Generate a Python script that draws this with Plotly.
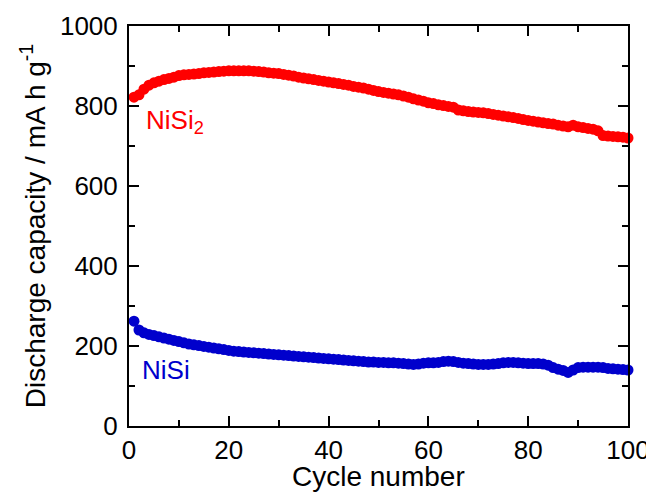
import plotly.graph_objects as go

cycles = list(range(1, 101))

nisi2_capacity = [
    822, 828, 842, 852, 858, 862, 866, 869, 872, 876,
    878, 879, 880, 881, 883, 884, 885, 886, 887, 888,
    888, 888, 888, 888, 887, 886, 885, 883, 882, 881,
    879, 877, 875, 872, 870, 868, 866, 864, 862, 860,
    858, 856, 854, 852, 849, 847, 845, 842, 839, 836,
    834, 832, 830, 828, 825, 822, 818, 815, 812, 808,
    806, 803, 801, 799, 797, 790, 788, 786, 785, 784,
    783, 781, 779, 777, 775, 773, 771, 769, 766, 764,
    762, 760, 758, 756, 755, 752, 750, 748, 752, 748,
    746, 744, 742, 738, 726, 725, 724, 723, 722, 720,
]

nisi_capacity = [
    262, 240, 233, 229, 226, 223, 220, 217, 214, 211,
    208, 205, 203, 201, 199, 197, 195, 193, 191, 189,
    187, 186, 185, 184, 183, 182, 181, 180, 179, 178,
    177, 176, 175, 174, 173, 172, 171, 170, 169, 168,
    167, 166, 165, 164, 163, 162, 161, 160, 160, 159,
    159, 158, 158, 157, 156, 155, 154, 155, 157, 158,
    158, 159, 161, 162, 161, 159, 157, 156, 155, 154,
    154, 154, 155, 156, 158, 159, 159, 158, 157, 156,
    156, 156, 155, 152, 146, 142, 139, 134, 140, 146,
    147, 147, 147, 147, 146, 144, 143, 142, 141, 140,
]

x_ticks = [0, 20, 40, 60, 80, 100]
x_minor = [10, 30, 50, 70, 90]
y_ticks = [0, 200, 400, 600, 800, 1000]
y_minor = [100, 300, 500, 700, 900]

FONT = "Liberation Sans, Arial, sans-serif"
RED = "#ff0000"
BLUE = "#0000cc"

fig = go.Figure()
fig.add_trace(go.Scatter(x=cycles, y=nisi2_capacity, mode="markers",
                         marker=dict(color=RED, size=11, line=dict(width=0)),
                         name="NiSi2", showlegend=False, cliponaxis=False))
fig.add_trace(go.Scatter(x=cycles, y=nisi_capacity, mode="markers",
                         marker=dict(color=BLUE, size=11, line=dict(width=0)),
                         name="NiSi", showlegend=False, cliponaxis=False))

fig.add_annotation(x=3.0, y=762, xref="x", yref="y", text="NiSi<sub>2</sub>",
                   showarrow=False, xanchor="left", yanchor="middle",
                   font=dict(family=FONT, size=26, color=RED))
fig.add_annotation(x=2.2, y=139, xref="x", yref="y", text="NiSi",
                   showarrow=False, xanchor="left", yanchor="middle",
                   font=dict(family=FONT, size=26, color=BLUE))
# x-axis title placed as paper annotation for precise vertical position
fig.add_annotation(x=0.5, y=-0.086, xref="paper", yref="paper", text="Cycle number",
                   showarrow=False, xanchor="center", yanchor="top", borderpad=0,
                   font=dict(family=FONT, size=28, color="black"))

axis_common = dict(showline=True, linecolor="black", linewidth=2, mirror="ticks",
                   ticks="inside", ticklen=10, tickwidth=2, tickcolor="black",
                   showgrid=False, zeroline=False,
                   tickfont=dict(family=FONT, size=26, color="black"))

fig.update_xaxes(range=[0, 100], tickvals=x_ticks,
                 minor=dict(tickvals=x_minor, ticks="inside", ticklen=6,
                            tickwidth=2, tickcolor="black", showgrid=False),
                 **axis_common)
fig.update_yaxes(range=[0, 1000], tickvals=y_ticks,
                 minor=dict(tickvals=y_minor, ticks="inside", ticklen=6,
                            tickwidth=2, tickcolor="black", showgrid=False),
                 title=dict(text="Discharge capacity / mA h g<sup>-1</sup>",
                            font=dict(family=FONT, size=28, color="black"), standoff=6),
                 ticklabelstandoff=4,
                 **axis_common)

fig.update_layout(width=646, height=485,
                  margin=dict(l=121, r=26, t=18, b=67, autoexpand=False),
                  paper_bgcolor="white", plot_bgcolor="white",
                  font=dict(family=FONT, color="black"))

fig.write_html("out.html")
